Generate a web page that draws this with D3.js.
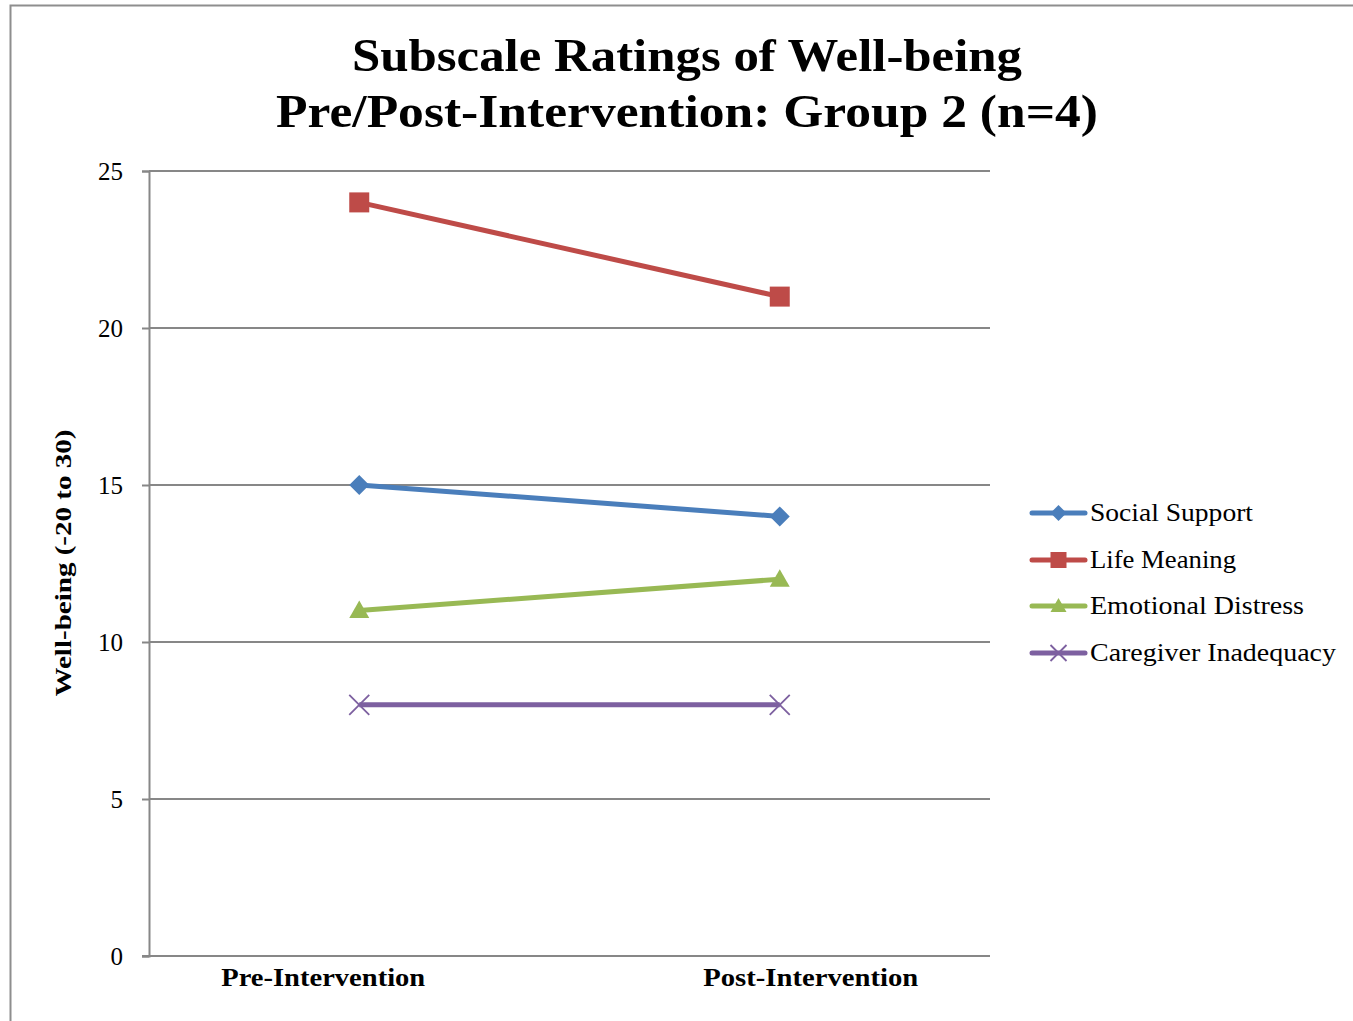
<!DOCTYPE html>
<html><head><meta charset="utf-8">
<script src="https://cdn.jsdelivr.net/npm/d3@7"></script>
<style>body{margin:0;background:#fff}svg{display:block}</style>
</head><body>
<script>
const categories = ["Pre-Intervention", "Post-Intervention"];
const seriesNames = ["Social Support", "Life Meaning", "Emotional Distress", "Caregiver Inadequacy"];
const socialSupport = [15, 14];
const lifeMeaning = [24, 21];
const emotionalDistress = [11, 12];
const caregiverInadequacy = [8, 8];
const yTicks = [0, 5, 10, 15, 20, 25];
const titleLines = ["Subscale Ratings of Well-being", "Pre/Post-Intervention: Group 2 (n=4)"];
const yLabel = "Well-being (-20 to 30)";

(function () {
const seriesValues = [socialSupport, lifeMeaning, emotionalDistress, caregiverInadequacy];
const colors = ["#4A7EBB", "#BE4B48", "#98B954", "#7D60A0"];
const markers = ["diamond", "square", "triangle", "x"];

const W = 1353, H = 1021;
const svg = d3.select("body").append("svg").attr("width", W).attr("height", H);
const serif = "'Liberation Serif', 'DejaVu Serif', serif";

// outer frame
svg.append("path").attr("d", `M10.5,${H} L10.5,5.5 L${W},5.5`)
  .attr("fill", "none").attr("stroke", "#8e8e8e").attr("stroke-width", 2);

// title
const title = svg.append("g");
[[titleLines[0], 71, 670], [titleLines[1], 127, 822]].forEach(([t, yy, w]) => {
  title.append("text").attr("x", 687).attr("y", yy).attr("text-anchor", "middle")
    .attr("font-family", serif).attr("font-weight", "bold").attr("font-size", 46)
    .attr("textLength", w).attr("lengthAdjust", "spacingAndGlyphs").text(t);
});

const pL = 149, pR = 990, pT = 171, pB = 956;
const x = d3.scaleBand().domain(categories).range([pL, pR]);
const y = d3.scaleLinear().domain([0, 25]).range([pB, pT]);

// gridlines
svg.append("g").selectAll("line").data(yTicks.filter(d => d > 0)).join("line")
  .attr("x1", pL).attr("x2", pR).attr("y1", d => y(d)).attr("y2", d => y(d))
  .attr("stroke", "#878787").attr("stroke-width", 2);

// y axis
const yAxis = svg.append("g").attr("transform", `translate(${pL},0)`)
  .call(d3.axisLeft(y).tickValues(yTicks).tickSize(7).tickPadding(19));
yAxis.select(".domain").attr("stroke", "#878787").attr("stroke-width", 2);
yAxis.selectAll(".tick line").attr("stroke", "#878787").attr("stroke-width", 2);
yAxis.selectAll(".tick text").attr("font-family", serif).attr("font-size", 25).attr("fill", "#000");

// x axis
const xAxis = svg.append("g").attr("transform", `translate(0,${pB})`)
  .call(d3.axisBottom(x).tickSize(0).tickPadding(12));
xAxis.select(".domain").attr("d", `M${pL - 7},0H${pR}`).attr("stroke", "#878787").attr("stroke-width", 2);
const labelShift = [-36, 31];
xAxis.selectAll(".tick text").attr("font-family", serif).attr("font-weight", "bold")
  .attr("font-size", 25).attr("fill", "#000")
  .attr("x", (d, i) => labelShift[i])
  .attr("textLength", (d, i) => [204, 215][i]).attr("lengthAdjust", "spacingAndGlyphs");

// y label
svg.append("text").attr("transform", `translate(71,563) rotate(-90)`).attr("text-anchor", "middle")
  .attr("font-family", serif).attr("font-weight", "bold").attr("font-size", 24)
  .attr("textLength", 267).attr("lengthAdjust", "spacingAndGlyphs").text(yLabel);

function drawMarker(g, type, color, cx, cy, s) {
  if (type === "diamond") {
    g.append("path").attr("d", `M${cx},${cy - s}L${cx + s},${cy}L${cx},${cy + s}L${cx - s},${cy}Z`).attr("fill", color);
  } else if (type === "square") {
    g.append("rect").attr("x", cx - s).attr("y", cy - s).attr("width", 2 * s).attr("height", 2 * s).attr("fill", color);
  } else if (type === "triangle") {
    g.append("path").attr("d", `M${cx},${cy - s}L${cx + s},${cy + s * 0.75}L${cx - s},${cy + s * 0.75}Z`).attr("fill", color);
  } else {
    g.append("path").attr("d", `M${cx - s},${cy - s}L${cx + s},${cy + s}M${cx - s},${cy + s}L${cx + s},${cy - s}`)
      .attr("stroke", color).attr("stroke-width", 1.8).attr("fill", "none");
  }
}

const line = d3.line().x((d, i) => x(categories[i]) + x.bandwidth() / 2).y(d => y(d));
const plot = svg.append("g");
seriesValues.forEach((vals, si) => {
  plot.append("path").datum(vals).attr("d", line).attr("fill", "none")
    .attr("stroke", colors[si]).attr("stroke-width", 5);
  vals.forEach((v, i) => {
    drawMarker(plot, markers[si], colors[si], x(categories[i]) + x.bandwidth() / 2, y(v), 10);
  });
});

// legend
const leg = svg.append("g");
const legY = [513, 560, 606, 653];
const legW = [163, 146, 214, 246];
seriesNames.forEach((n, i) => {
  const g = leg.append("g");
  g.append("line").attr("x1", 1032).attr("x2", 1085).attr("y1", legY[i]).attr("y2", legY[i])
    .attr("stroke", colors[i]).attr("stroke-width", 5).attr("stroke-linecap", "round");
  drawMarker(g, markers[i], colors[i], 1058.5, legY[i], 8);
  g.append("text").attr("x", 1090).attr("y", legY[i] + 8).attr("font-family", serif)
    .attr("font-size", 25).attr("textLength", legW[i]).attr("lengthAdjust", "spacingAndGlyphs").text(n);
});
})();
</script>
</body></html>
